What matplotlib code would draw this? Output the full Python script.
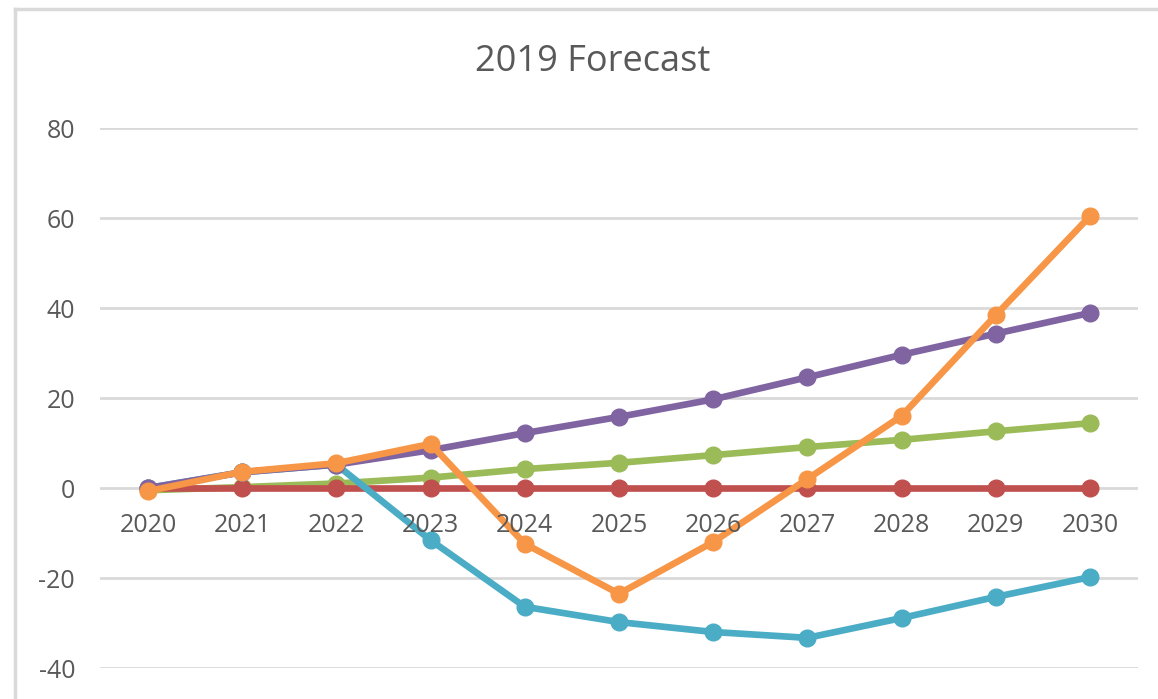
import numpy as np
import matplotlib.pyplot as plt
from matplotlib.lines import Line2D

years = [2020, 2021, 2022, 2023, 2024, 2025, 2026, 2027, 2028, 2029, 2030]
green = [-0.5, 0.2, 1.0, 2.3, 4.2, 5.6, 7.3, 9.1, 10.7, 12.6, 14.4]
red = [0, 0, 0, 0, 0, 0, 0, 0, 0, 0, 0]
purple = [0, 3.5, 5.2, 8.4, 12.2, 15.8, 19.7, 24.6, 29.6, 34.3, 38.9]
blue = [0, 3.5, 5.2, -11.6, -26.4, -29.8, -32.0, -33.3, -28.9, -24.2, -19.8]
orange = [-0.7, 3.6, 5.5, 9.8, -12.4, -23.5, -12.0, 2.0, 16.0, 38.4, 60.4]

# drawing order: first is at the bottom
series = [
    (green, '#9BBB59'),
    (red, '#C0504D'),
    (blue, '#4BACC6'),
    (purple, '#8064A2'),
    (orange, '#F79646'),
]

plt.rcParams['font.family'] = ['Open Sans', 'DejaVu Sans']
plt.rcParams['axes.unicode_minus'] = False

fig = plt.figure(figsize=(11.58, 6.99), dpi=100)
ax = fig.add_axes([100 / 1158, 31 / 699, 1038 / 1158, 540 / 699])

for vals, col in series:
    ax.plot(years, vals, color=col, lw=4.8, marker='o', ms=12,
            solid_capstyle='round', zorder=3)

ax.set_xlim(2019.49, 2030.51)
ax.set_ylim(-40, 80)
ax.set_yticks(np.arange(-40, 81, 20))
ax.yaxis.grid(True, color='#D9D9D9', lw=2)
ax.set_axisbelow(True)
for s in ['top', 'right', 'left', 'bottom']:
    ax.spines[s].set_visible(False)
ax.tick_params(axis='y', length=0, pad=18, labelsize=18, labelcolor='#595959')
ax.set_xticks([])

# category labels sit under the zero line
for yr in years:
    ax.annotate(str(yr), xy=(yr, 0), xytext=(0, -27), textcoords='offset points',
                ha='center', va='center', fontsize=18, color='#595959')

fig.text(593 / 1158, 1 - 62 / 699, '2019 Forecast', ha='center', va='center',
         fontsize=26, color='#595959')

# chart frame (left and top edges)
fig.add_artist(Line2D([15 / 1158, 15 / 1158], [0, 1 - 9 / 699],
                      transform=fig.transFigure, color='#D9D9D9', lw=2.5))
fig.add_artist(Line2D([15 / 1158, 1], [1 - 9 / 699, 1 - 9 / 699],
                      transform=fig.transFigure, color='#D9D9D9', lw=2.5))

fig.savefig('out.png', dpi=100)
